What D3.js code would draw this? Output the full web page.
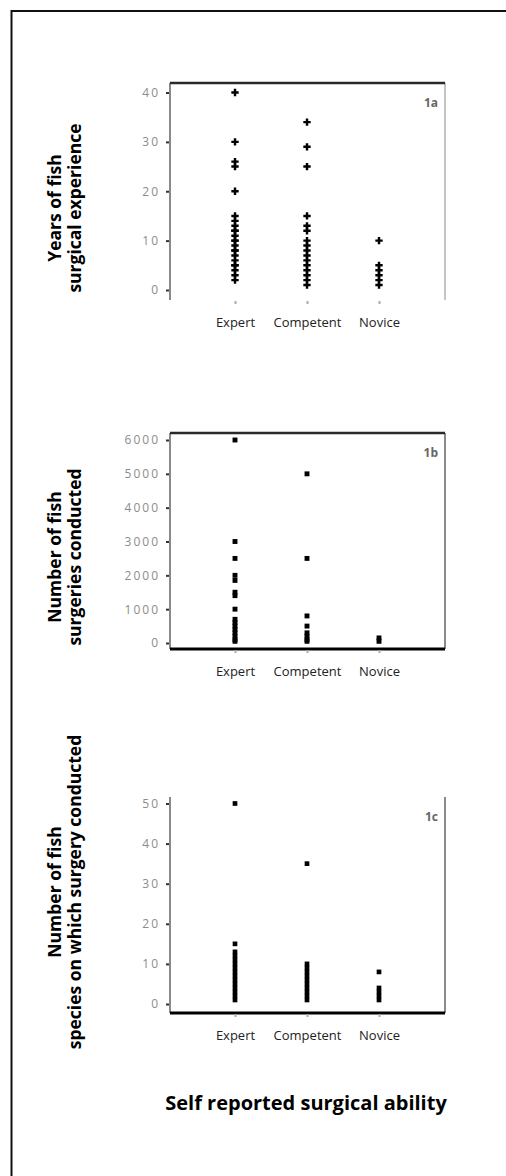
<!DOCTYPE html>
<html>
<head>
<meta charset="utf-8">
<script src="https://cdn.jsdelivr.net/npm/d3@7"></script>
<style>
	body { margin: 0; background: #fff; }
	text { font-family: 'Open Sans', sans-serif; }
</style>
</head>
<body>
<svg></svg>
<script>
// categories on the x axis
const categories = [ 'Expert', 'Competent', 'Novice' ]

// 1a: years of fish surgical experience
const yearsTicks = [ 0, 10, 20, 30, 40 ]
const yearsExpert = [ 40, 30, 26, 25, 20, 15, 14, 13, 12, 12, 11, 10, 10, 9, 8, 8, 7, 6, 5, 5, 4, 3, 2 ]
const yearsCompetent = [ 34, 29, 25, 15, 13, 12, 10, 9, 8, 7, 6, 5, 4, 3, 2, 1 ]
const yearsNovice = [ 10, 5, 4, 3, 2, 1 ]

// 1b: number of fish surgeries conducted
const surgTicks = [ 0, 1000, 2000, 3000, 4000, 5000, 6000 ]
const surgExpert = [ 6000, 3000, 2500, 2000, 1850, 1500, 1400, 1000, 700, 600, 500, 400, 300, 200, 100, 50 ]
const surgCompetent = [ 5000, 2500, 800, 500, 300, 200, 100, 50 ]
const surgNovice = [ 150, 50 ]

// 1c: number of fish species
const specTicks = [ 0, 10, 20, 30, 40, 50 ]
const specExpert = [ 50, 15, 13, 12, 11, 10, 9, 8, 7, 6, 5, 4, 3, 2, 1 ]
const specCompetent = [ 35, 10, 9, 8, 7, 6, 5, 4, 3, 2, 1 ]
const specNovice = [ 8, 4, 3, 2, 1 ]

const WIDTH = 506,
	HEIGHT = 1176,
	left = 170,
	right = 445

const svg = d3.select( 'svg' )
	.attr( 'width', WIDTH )
	.attr( 'height', HEIGHT )

// outer frame (only top and left are visible)
svg.append( 'path' )
	.attr( 'd', `M11.5,${HEIGHT} V11 H${WIDTH}` )
	.attr( 'fill', 'none' )
	.attr( 'stroke', '#111' )
	.attr( 'stroke-width', 2 )

const x = d3.scalePoint().domain( categories ).range( [235, 379] )

const panels = [
	{ tag: '1a', top: 83, yTop: 92.5, yZero: 290, bottom: 300, max: 40, ticks: yearsTicks,
		series: [ yearsExpert, yearsCompetent, yearsNovice ], symbol: d3.symbolCross, size: 30,
		title: [ 'Years of fish', 'surgical experience' ], titleY: 208, topLine: true, bottomLine: false, rightColor: '#c4c4c4' },
	{ tag: '1b', top: 433, yTop: 440, yZero: 643, bottom: 649, max: 6000, ticks: surgTicks,
		series: [ surgExpert, surgCompetent, surgNovice ], symbol: d3.symbolSquare, size: 24,
		title: [ 'Number of fish', 'surgeries conducted' ], titleY: 557, topLine: true, bottomLine: true, rightColor: '#8a8a8a' },
	{ tag: '1c', top: 797, yTop: 803.5, yZero: 1004, bottom: 1013, max: 50, ticks: specTicks,
		series: [ specExpert, specCompetent, specNovice ], symbol: d3.symbolSquare, size: 22,
		title: [ 'Number of fish', 'species on which surgery conducted' ], titleY: 892, topLine: false, bottomLine: true, rightColor: '#8a8a8a' }
]

panels.forEach( p => {
	const g = svg.append( 'g' )
	const y = d3.scaleLinear().domain( [0, p.max] ).range( [p.yZero, p.yTop] )

	// left axis with ticks
	const ax = g.append( 'g' )
		.attr( 'transform', `translate( ${left}, 0 )` )
		.call( d3.axisLeft( y ).tickValues( p.ticks ).tickFormat( d3.format( 'd' ) ).tickSize( 4 ).tickPadding( 8 ) )
	ax.select( '.domain' ).remove()
	ax.selectAll( '.tick line' ).attr( 'stroke', '#333' ).attr( 'stroke-width', 2 )
	ax.selectAll( '.tick text' )
		.attr( 'fill', '#8c8c8c' )
		.attr( 'dx', 2 )
		.style( 'font-size', '12px' )
		.style( 'letter-spacing', '2px' )

	g.append( 'line' )
		.attr( 'x1', left ).attr( 'x2', left )
		.attr( 'y1', p.top ).attr( 'y2', p.bottom )
		.attr( 'stroke', '#8a8a8a' ).attr( 'stroke-width', 2 )

	g.append( 'line' )
		.attr( 'x1', right ).attr( 'x2', right )
		.attr( 'y1', p.top ).attr( 'y2', p.bottom )
		.attr( 'stroke', p.rightColor ).attr( 'stroke-width', 2 )

	if ( p.topLine ) g.append( 'line' )
		.attr( 'x1', left ).attr( 'x2', right )
		.attr( 'y1', p.top ).attr( 'y2', p.top )
		.attr( 'stroke', '#2a2a2a' ).attr( 'stroke-width', 2.5 )

	if ( p.bottomLine ) g.append( 'line' )
		.attr( 'x1', left ).attr( 'x2', right )
		.attr( 'y1', p.bottom ).attr( 'y2', p.bottom )
		.attr( 'stroke', '#000' ).attr( 'stroke-width', 3 )

	// bottom axis: tiny ticks + category names
	const bx = g.append( 'g' )
		.attr( 'transform', `translate( 0, ${p.bottom + 1} )` )
		.call( d3.axisBottom( x ).tickSize( 3 ).tickPadding( 14 ) )
	bx.select( '.domain' ).remove()
	bx.selectAll( '.tick line' ).attr( 'stroke', '#aaa' ).attr( 'stroke-width', 2 )
	bx.selectAll( '.tick text' )
		.attr( 'fill', '#222' )
		.style( 'font-size', '13px' )

	// the points
	const sym = d3.symbol().type( p.symbol ).size( p.size )
	p.series.forEach( ( vals, i ) => {
		g.selectAll( null )
			.data( vals )
			.enter().append( 'path' )
			.attr( 'd', sym )
			.attr( 'transform', d => `translate( ${x( categories[i] )}, ${y( d )} )` )
			.attr( 'fill', '#000' )
	})

	// panel tag
	g.append( 'text' )
		.attr( 'x', right - 7 )
		.attr( 'y', p.top + 24 )
		.attr( 'text-anchor', 'end' )
		.attr( 'fill', '#666' )
		.style( 'font-size', '12px' )
		.style( 'font-weight', 'bold' )
		.text( p.tag )

	// y title, two lines
	const t = g.append( 'text' )
		.attr( 'transform', `translate( 61, ${p.titleY} ) rotate( -90 )` )
		.attr( 'text-anchor', 'middle' )
		.attr( 'fill', '#000' )
		.style( 'font-size', '17.5px' )
		.style( 'font-weight', 'bold' )
	p.title.forEach( ( line, i ) => {
		t.append( 'tspan' )
			.attr( 'x', 0 )
			.attr( 'y', i * 20 )
			.text( line )
	})
})

svg.append( 'text' )
	.attr( 'x', 306 )
	.attr( 'y', 1110 )
	.attr( 'text-anchor', 'middle' )
	.attr( 'fill', '#000' )
	.style( 'font-size', '20px' )
	.style( 'font-weight', 'bold' )
	.text( 'Self reported surgical ability' )
</script>
</body>
</html>
